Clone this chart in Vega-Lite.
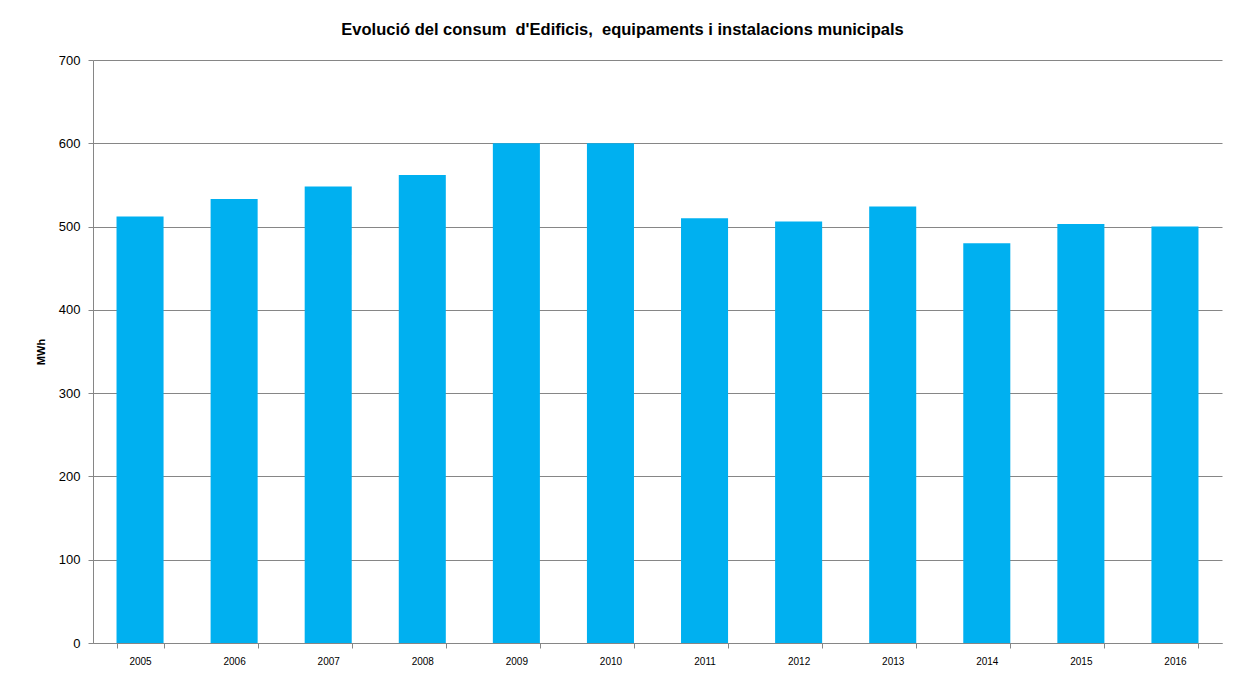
{
  "$schema": "https://vega.github.io/schema/vega-lite/v6.json",
  "autosize": "none",
  "width": 1129,
  "height": 583,
  "padding": {"left": 93, "top": 60, "right": 22, "bottom": 34},
  "background": "white",
  "title": {
    "text": "Evolució del consum\u00a0 d'Edificis,\u00a0 equipaments i instalacions municipals",
    "font": "Liberation Sans",
    "fontSize": 16.5,
    "fontWeight": "bold",
    "color": "#000000",
    "anchor": "middle",
    "dx": -35,
    "offset": 16
  },
  "data": {
    "values": [
      {"year": "2005", "mwh": 512},
      {"year": "2006", "mwh": 533},
      {"year": "2007", "mwh": 548},
      {"year": "2008", "mwh": 562},
      {"year": "2009", "mwh": 600},
      {"year": "2010", "mwh": 600},
      {"year": "2011", "mwh": 510},
      {"year": "2012", "mwh": 506},
      {"year": "2013", "mwh": 524},
      {"year": "2014", "mwh": 480},
      {"year": "2015", "mwh": 503},
      {"year": "2016", "mwh": 500}
    ]
  },
  "mark": {"type": "bar", "color": "#00B0F0"},
  "encoding": {
    "x": {
      "field": "year",
      "type": "ordinal",
      "scale": {"paddingInner": 0.5, "paddingOuter": 0.25},
      "axis": {
        "title": null,
        "labelAngle": 0,
        "labelFont": "Liberation Sans",
        "labelFontSize": 10,
        "labelColor": "#000000",
        "labelPadding": 8,
        "tickBand": "extent",
        "tickSize": 5,
        "tickColor": "#868686",
        "domainColor": "#868686",
        "grid": false
      }
    },
    "y": {
      "field": "mwh",
      "type": "quantitative",
      "scale": {"domain": [0, 700], "nice": false},
      "axis": {
        "title": "MWh",
        "titleFont": "Liberation Sans",
        "titleFontSize": 11,
        "titleFontWeight": "bold",
        "titleColor": "#000000",
        "titlePadding": 12,
        "values": [0, 100, 200, 300, 400, 500, 600, 700],
        "labelFont": "Liberation Sans",
        "labelFontSize": 13,
        "labelColor": "#000000",
        "labelPadding": 8,
        "tickSize": 5,
        "tickColor": "#868686",
        "domainColor": "#868686",
        "grid": true,
        "gridColor": "#868686",
        "gridWidth": 1
      }
    }
  },
  "config": {"view": {"stroke": null}}
}
